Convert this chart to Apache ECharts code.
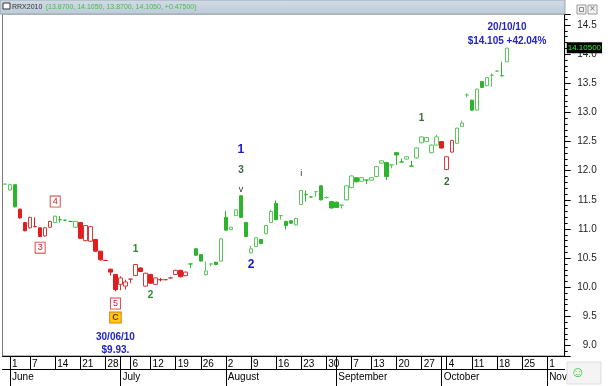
<!DOCTYPE html>
<html><head><meta charset="utf-8">
<script src="https://cdn.jsdelivr.net/npm/echarts@6/dist/echarts.min.js"></script>
<style>html,body{margin:0;padding:0;background:#fff}#c{width:608px;height:386px}</style>
</head><body><div id="c"></div>
<script>
// ---- trading days (categories) ----
const mayDays  = [28];
const juneDays = [1,2,3,4,7,8,9,10,11,14,15,16,17,18,21,22,23,24,25,28,29,30];
const julyDays = [1,2,6,7,8,9,12,13,14,15,16,19,20,21,22,23,26,27,28,29,30];
const augDays  = [2,3,4,5,6,9,10,11,12,13,16,17,18,19,20,23,24,25,26,27,30,31];
const sepDays  = [1,2,3,7,8,9,10,13,14,15,16,17,20,21,22,23,24,27,28,29,30];
const octDays  = [1,4,5,6,7,8,11,12,13,14,15,18,19,20,21,22,25,26,27,28,29];
const novDays  = [1,2,3,4];
const monthNames = ['','','','','','May','June','July','August','September','October','Nov'];

// ---- OHLC (28 May .. 20 Oct 2010) ----
const opens = [11.77,11.67,11.76,11.34,11.11,11.02,11.04,11.02,10.88,11.03,11.11,11.16,11.15,11.13,11.03,11.11,10.80,10.79,10.82,10.62,10.46,10.31,10.22,10.05,10.02,10.14,10.20,10.33,10.02,10.22,10.05,10.13,10.13,10.16,10.22,10.29,10.20,10.40,10.66,10.56,10.22,10.40,10.43,10.45,11.20,10.99,11.23,11.57,11.11,10.59,10.70,10.82,10.92,11.11,11.44,11.23,11.13,11.14,11.07,11.42,11.59,11.55,11.64,11.74,11.54,11.47,11.46,11.41,11.50,11.71,11.88,11.82,11.84,11.84,11.90,12.13,12.14,12.10,12.31,12.15,12.20,12.08,12.22,12.48,12.50,12.31,12.44,12.50,12.02,12.32,12.47,12.76,13.30,13.21,13.04,13.53,13.46,13.64,13.71,13.63,13.87];
const closes = [11.77,11.76,11.38,11.19,10.97,11.20,11.04,10.87,11.02,11.13,11.22,11.16,11.15,11.13,11.13,10.84,11.06,11.04,10.62,10.47,10.46,10.26,9.96,10.16,10.09,10.14,10.39,10.27,10.24,10.07,10.16,10.13,10.13,10.16,10.29,10.18,10.26,10.40,10.55,10.45,10.28,10.40,10.39,10.83,10.98,11.03,11.33,11.20,10.87,10.66,10.85,10.75,11.06,11.30,11.16,11.23,11.06,11.10,11.18,11.66,11.59,11.55,11.64,11.50,11.54,11.36,11.37,11.41,11.74,11.91,11.81,11.88,11.84,11.88,12.07,12.17,11.90,12.10,12.27,12.15,12.24,12.08,12.39,12.58,12.57,12.44,12.58,12.39,12.24,12.52,12.73,12.82,13.30,13.04,13.40,13.43,13.60,13.64,13.71,13.63,14.105];
const highs  = [11.77,11.78,11.76,11.35,11.12,11.21,11.20,11.02,11.03,11.14,11.23,11.22,11.16,11.14,11.14,11.12,11.07,11.05,10.83,10.62,10.47,10.32,10.22,10.19,10.13,10.14,10.40,10.34,10.25,10.23,10.17,10.16,10.14,10.18,10.30,10.30,10.27,10.40,10.67,10.56,10.44,10.40,10.44,10.84,11.31,11.04,11.34,11.58,11.12,10.71,10.86,10.83,11.07,11.33,11.49,11.23,11.14,11.15,11.19,11.67,11.66,11.56,11.64,11.75,11.56,11.48,11.47,11.41,11.75,11.92,11.89,11.89,11.84,11.89,12.08,12.18,12.15,12.10,12.31,12.21,12.25,12.17,12.40,12.59,12.58,12.45,12.62,12.51,12.25,12.53,12.74,12.86,13.33,13.22,13.41,13.54,13.61,13.67,13.72,13.87,14.105];
const lows   = [11.77,11.66,11.37,11.18,10.96,11.01,11.03,10.86,10.87,11.02,11.10,11.11,11.14,11.12,11.02,10.83,10.79,10.78,10.61,10.46,10.45,10.20,9.93,9.95,9.96,10.07,10.19,10.26,10.01,10.06,10.04,10.10,10.12,10.15,10.21,10.17,10.19,10.33,10.54,10.44,10.20,10.36,10.38,10.44,10.97,10.98,11.22,11.19,10.86,10.58,10.69,10.74,10.91,11.10,11.15,11.16,10.99,11.09,11.06,11.41,11.47,11.54,11.55,11.49,11.52,11.35,11.36,11.35,11.49,11.70,11.80,11.81,11.77,11.83,11.89,12.12,11.84,12.04,12.10,12.15,12.19,12.08,12.21,12.47,12.49,12.30,12.43,12.38,12.01,12.31,12.46,12.75,13.26,13.03,13.03,13.42,13.45,13.44,13.70,13.63,13.87];
// trend state per bar: u = up-trend (green), d = down-trend (red)
const trendDir = 'uuu' + 'ddddddd' + 'uuuuu' + 'dddddddddddddddddddddd' + 'uuuuuuuuuuuuuuuuuuuuuuuuuuuuuuuuuuuuuuuuuuuuuuuuuu' + 'ddd' + 'uuuuuuuuuuu';

// ---- annotations: date, price anchor, text, kind ----
const annoDates  = ['2010-06-09','2010-06-14','2010-06-30','2010-06-30','2010-06-30','2010-06-30','2010-07-07','2010-07-12','2010-08-05','2010-08-05','2010-08-05','2010-08-09','2010-08-23','2010-09-27','2010-10-04','2010-10-20','2010-10-20'];
const annoPrices = [10.68,11.47,9.72,9.48,9.14,8.915,10.645,9.856,12.36,12.015,11.67,10.39,11.96,12.9,11.81,14.466,14.226];
const annoTexts  = ['3','4','5','C','30/06/10','$9.93.','1','2','1','3','v','2','i','1','2','20/10/10','$14.105 +42.04%'];
const annoKinds  = ['box','box','box','c','date','date','green','green','blue','dark','roman','blue','roman','dark','dark','date','date'];
const lastPrice = 14.105;
const titleText = 'RRX2010';
const titleValues = '(13.8700, 14.1050, 13.8700, 14.1050, +0.47500)';

// ---- build categories ----
const pad = n => (n < 10 ? '0' : '') + n;
const dates = [];
[[5,mayDays],[6,juneDays],[7,julyDays],[8,augDays],[9,sepDays],[10,octDays],[11,novDays]].forEach(([m,days]) => {
  days.forEach(d => dates.push('2010-' + pad(m) + '-' + pad(d)));
});
const dow = s => new Date(Date.UTC(+s.slice(0,4), +s.slice(5,7)-1, +s.slice(8,10))).getUTCDay();
const isWeekStart = dates.map((s,i) => i > 0 && dow(s) < dow(dates[i-1]));
const isMonthStart = dates.map((s,i) => i > 0 && s.slice(5,7) !== dates[i-1].slice(5,7));

const seriesFor = dir => opens.map((o,i) => trendDir[i] === dir ? [o, closes[i], lows[i], highs[i]] : '-');

const kindStyle = {
  box:   {color:'#cc2020', fontSize:9, backgroundColor:'#fff', borderColor:'#d25050', borderWidth:1, padding:[1,2,0,2]},
  c:     {color:'#8a2a00', fontSize:9, fontWeight:'bold', backgroundColor:'#ffcc10', borderColor:'#e07800', borderWidth:1, padding:[1,2,0,2]},
  date:  {color:'#2424c8', fontSize:10, fontWeight:'bold'},
  green: {color:'#2a8a2a', fontSize:10, fontWeight:'bold'},
  blue:  {color:'#1818cc', fontSize:12, fontWeight:'bold'},
  dark:  {color:'#3a6a3a', fontSize:10, fontWeight:'bold'},
  roman: {color:'#333333', fontSize:9}
};
const markData = annoTexts.map((t,i) => ({
  coord: [annoDates[i], annoPrices[i]],
  label: Object.assign({show:true, position:'inside', formatter: () => t}, kindStyle[annoKinds[i]])
}));

const chart = echarts.init(document.getElementById('c'), null, {renderer:'canvas'});
chart.setOption({
  animation: false,
  backgroundColor: '#fff',
  textStyle: {fontFamily: 'Liberation Sans, Arial, sans-serif'},
  grid: {left: 2.5, right: 43.3, top: 14, bottom: 30, show: true, borderColor: '#777', borderWidth: 1, backgroundColor: '#fff'},
  xAxis: [{
    type: 'category', data: dates, position: 'bottom', boundaryGap: true,
    axisLine: {show: true, lineStyle: {color: '#000'}},
    axisTick: {show: true, alignWithLabel: true, length: 13, interval: i => isWeekStart[i] || isMonthStart[i], lineStyle: {color: '#000'}},
    axisLabel: {interval: i => isWeekStart[i], formatter: v => String(+v.slice(8,10)), align: 'left', margin: 3, padding: [0,0,0,2], fontSize: 10, color: '#000'},
    splitLine: {show: false}
  }, {
    type: 'category', data: dates, position: 'bottom', offset: 13, boundaryGap: true,
    axisLine: {show: true, lineStyle: {color: '#000'}},
    axisTick: {show: true, alignWithLabel: true, length: 17, interval: i => isMonthStart[i], lineStyle: {color: '#000'}},
    axisLabel: {interval: i => isMonthStart[i], formatter: v => monthNames[+v.slice(5,7)], align: 'left', margin: 3, padding: [0,0,0,2], fontSize: 10, color: '#000'},
    splitLine: {show: false}
  }],
  yAxis: {
    type: 'value', position: 'right', min: 8.82, max: 14.69, minInterval: 0.5, maxInterval: 0.5, splitNumber: 12,
    axisLine: {show: true, lineStyle: {color: '#000'}},
    axisTick: {show: true, length: 6, lineStyle: {color: '#000'}},
    minorTick: {show: true, splitNumber: 5, length: 3, lineStyle: {color: '#000'}},
    splitLine: {show: false},
    axisLabel: {formatter: v => (Math.abs(v*2 - Math.round(v*2)) < 1e-6 ? v.toFixed(1) : ''), align: 'right', margin: 32, fontSize: 10, color: '#222'}
  },
  series: [{
    name: 'up', type: 'candlestick', xAxisIndex: 0, barWidth: 4, data: seriesFor('u'),
    itemStyle: {color: '#ffffff', borderColor: '#5ec65e', color0: '#2cb52c', borderColor0: '#2cb52c', borderWidth: 1},
    markPoint: {symbol: 'circle', symbolSize: 1, itemStyle: {color: 'rgba(0,0,0,0)'}, silent: true, data: markData},
    markLine: {
      symbol: ['none','none'], silent: true,
      lineStyle: {color: 'rgba(0,0,0,0)', width: 0},
      label: {show: true, position: 'end', formatter: () => lastPrice.toFixed(5), color: '#33ee33', backgroundColor: '#000', padding: [2,1,1,1], fontSize: 8, distance: 2},
      data: [{yAxis: lastPrice}]
    }
  }, {
    name: 'down', type: 'candlestick', xAxisIndex: 0, barWidth: 4, data: seriesFor('d'),
    itemStyle: {color: '#ffffff', borderColor: '#d63a3a', color0: '#e01e1e', borderColor0: '#e01e1e', borderWidth: 1}
  }],
  graphic: [
    {type:'rect', shape:{x:0,y:0,width:565,height:14}, style:{fill: new echarts.graphic.LinearGradient(0,0,0,1,[{offset:0,color:'#d2dce6'},{offset:1,color:'#bccbd8'}]), stroke:'#9aa8b4', lineWidth:1}, z:100},
    {type:'rect', shape:{x:3,y:3,width:7,height:6}, style:{fill:'#fff', stroke:'#333', lineWidth:1}, z:101},
    {type:'text', x:12, y:7, style:{text:'{a|' + titleText + '} {b|' + titleValues + '}', verticalAlign:'middle', rich:{a:{fontSize:7, fill:'#333'}, b:{fontSize:7, fill:'#4cb84c'}}}, z:101},
    {type:'rect', shape:{x:577,y:5,width:9,height:9}, style:{fill:'#f2f2f2', stroke:'#999', lineWidth:1}, z:101},
    {type:'rect', shape:{x:579.5,y:7.5,width:4,height:4}, style:{fill:'none', stroke:'#888', lineWidth:1}, z:102},
    {type:'rect', shape:{x:588,y:5,width:9,height:9}, style:{fill:'#f2f2f2', stroke:'#999', lineWidth:1}, z:101},
    {type:'text', x:592.5, y:9.5, style:{text:'×', fontSize:10, fill:'#777', align:'center', verticalAlign:'middle'}, z:102},
    {type:'rect', shape:{x:567,y:362,width:34,height:22}, style:{fill:'#f4f4f4', stroke:'#ddd', lineWidth:1}, z:101},
    {type:'text', x:578, y:373, style:{text:'☺', fontSize:15, fill:'#3cc83c', align:'center', verticalAlign:'middle'}, z:102}
  ]
});
</script></body></html>
